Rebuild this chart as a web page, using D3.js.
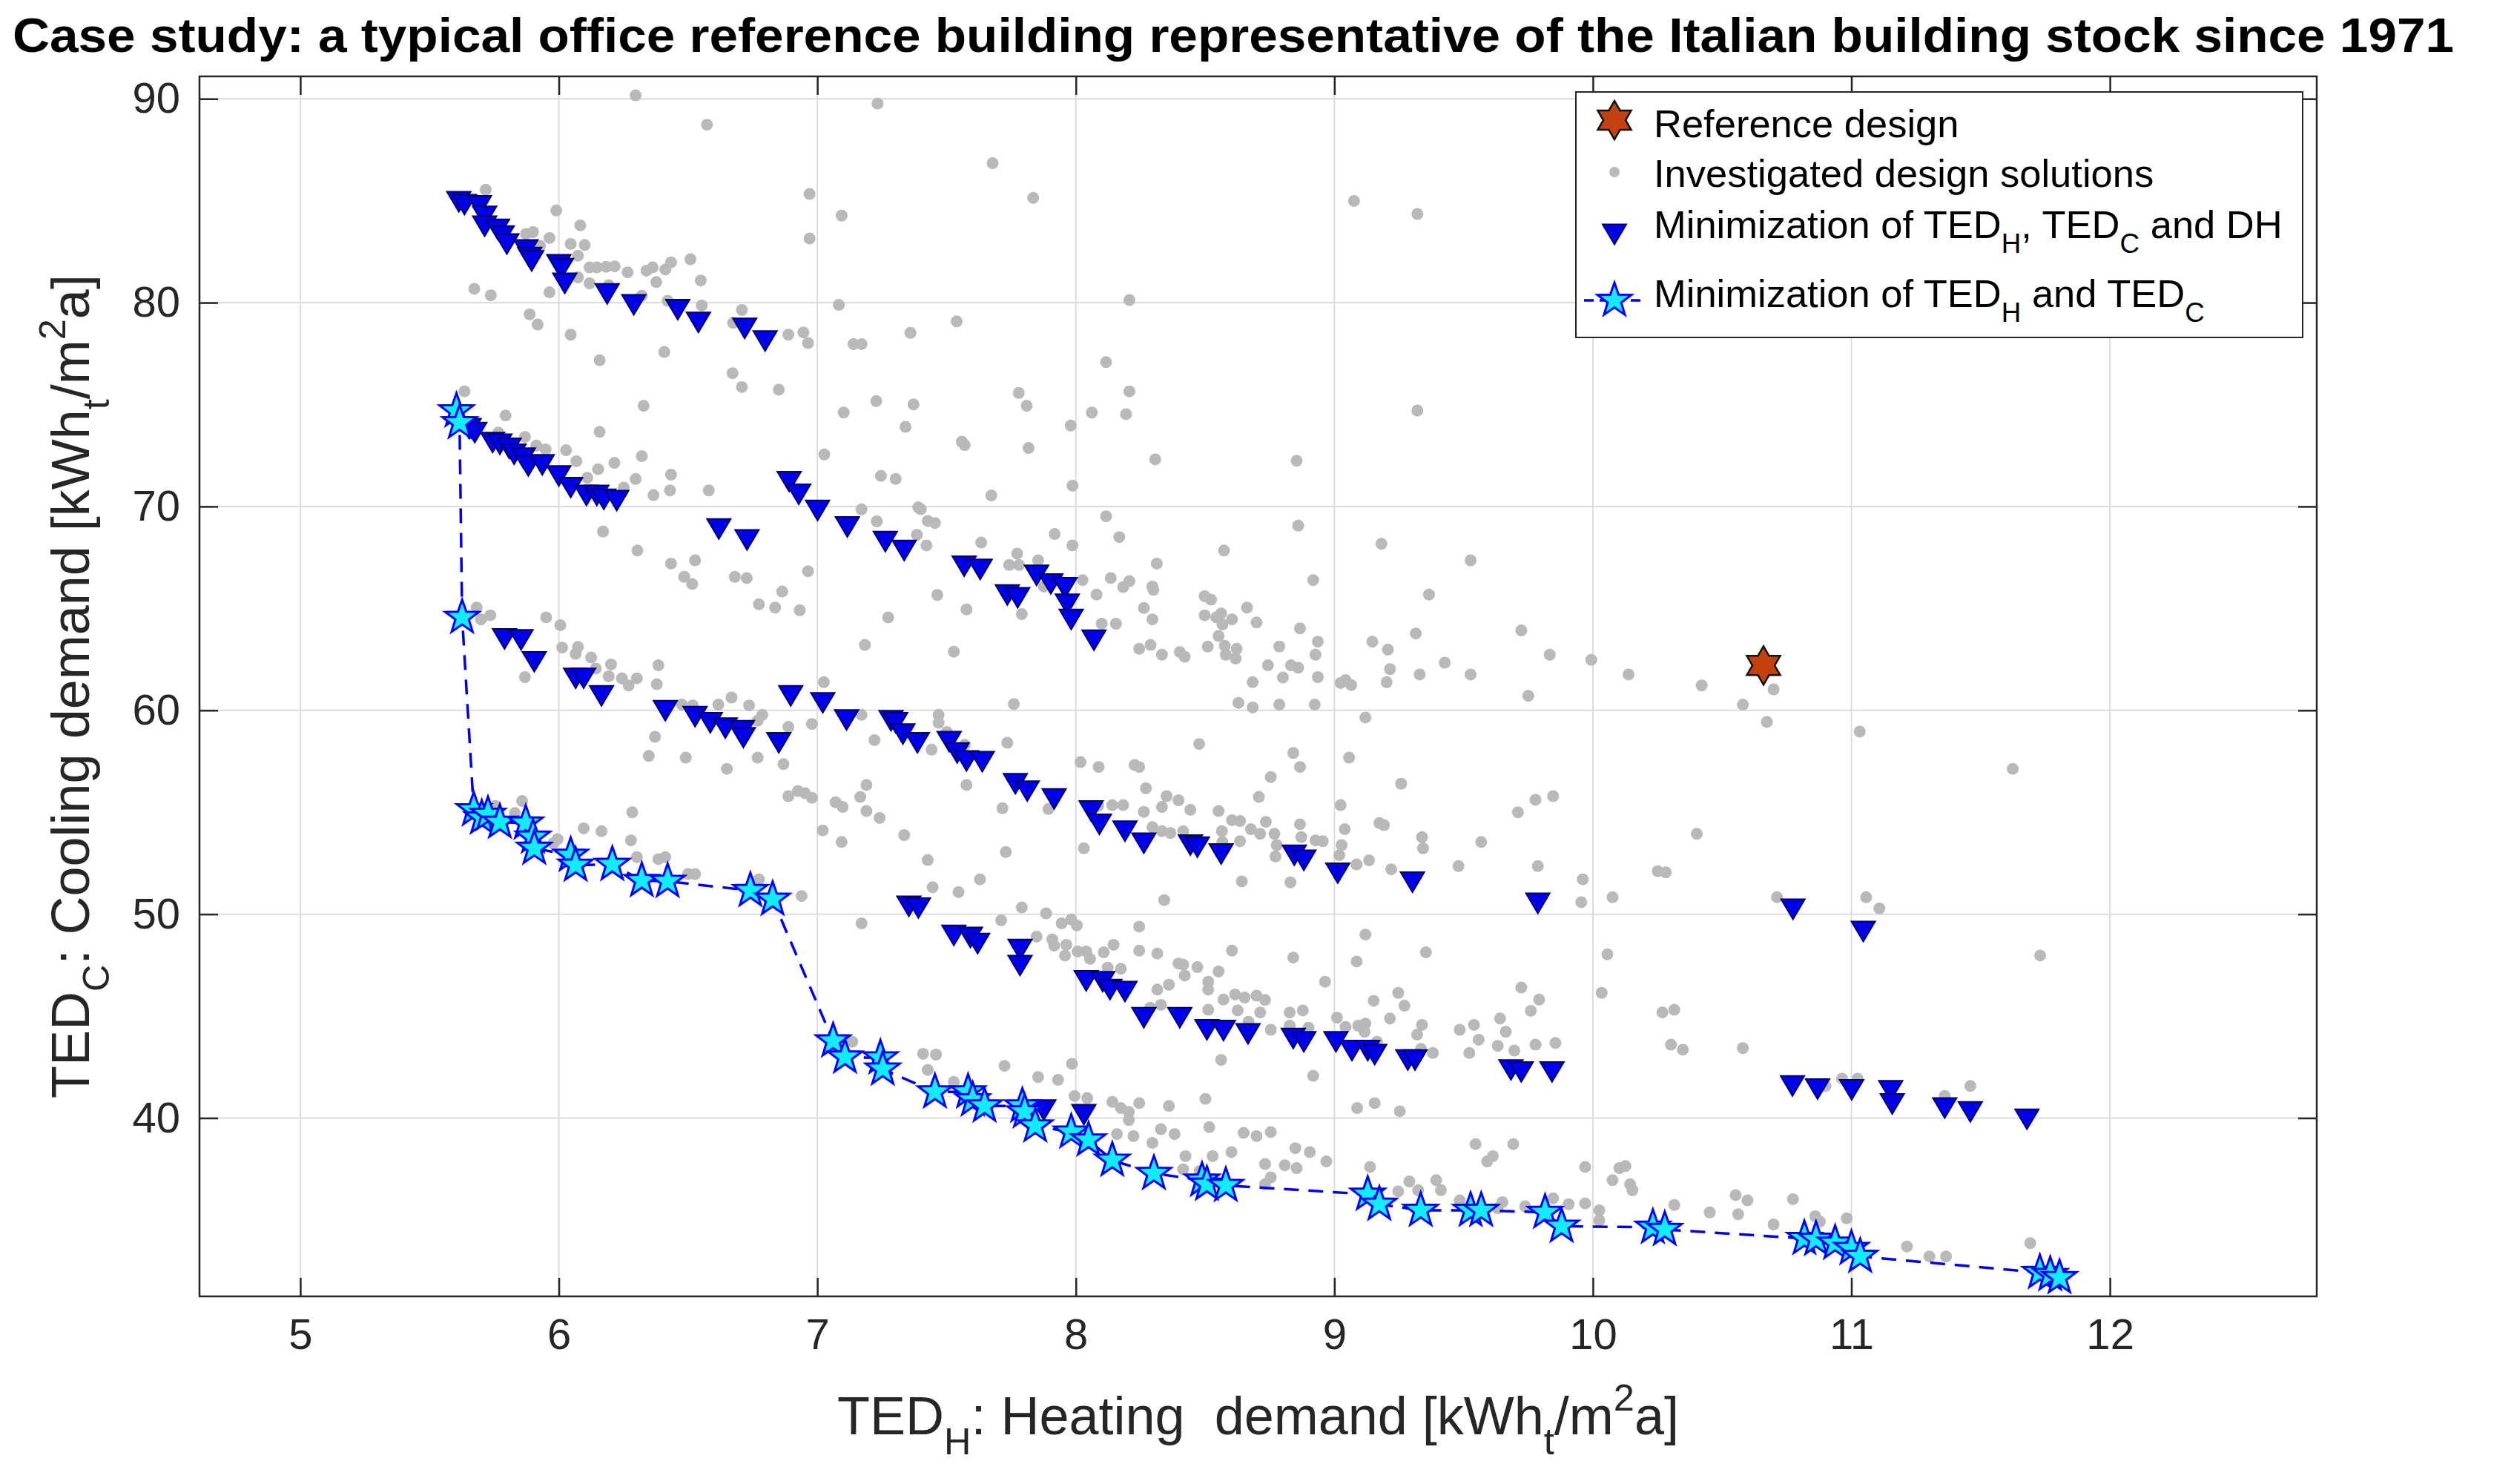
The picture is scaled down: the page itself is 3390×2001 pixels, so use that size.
<!DOCTYPE html>
<html>
<head>
<meta charset="utf-8">
<script src="https://cdn.jsdelivr.net/npm/d3@7"></script>
<style>
html, body { margin: 0; padding: 0; background: #fff; }
text { font-family: "Liberation Sans", Arial, Helvetica, sans-serif; white-space: pre; }
</style>
</head>
<body>
<div id="chart"></div>
<script>
// ---- data (TED_H, TED_C) ----
const referenceDesign = [[10.66, 62.2]];

const investigated = [
  [6.297,90.17],[6.573,88.73],[7.233,89.77],[5.717,85.54],[5.99,84.52],[6.083,83.79],[5.873,83.37],[5.90,83.46],
  [5.964,83.17],[6.046,82.88],[6.10,82.83],[6.074,82.30],[5.927,82.79],[6.119,81.73],[6.147,81.73],[6.183,81.76],
  [6.216,81.78],[6.266,81.49],[6.339,81.57],[6.363,81.73],[6.412,81.63],[6.434,81.98],[6.509,82.13],[6.377,81.01],
  [6.549,81.09],[6.97,85.33],[7.094,84.27],[6.97,83.15],[6.074,81.24],[6.119,80.95],[6.193,80.86],[5.673,80.68],
  [5.737,80.36],[5.964,80.51],[6.321,80.34],[6.421,80.09],[6.553,79.86],[6.708,79.64],[7.083,79.89],[5.887,79.43],
  [5.918,78.93],[6.046,78.43],[6.408,77.58],[6.158,77.17],[6.674,79.01],[6.888,78.43],[6.946,78.54],[6.964,78.02],
  [7.14,77.97],[7.171,77.97],[7.36,78.52],[6.672,76.54],[6.708,75.86],[6.851,75.73],[7.228,75.17],[7.372,75.01],
  [7.102,74.61],[7.341,73.91],[5.635,75.65],[6.328,74.94],[5.794,74.46],[6.158,73.66],[5.766,73.63],[5.869,73.41],
  [5.913,72.99],[5.949,72.80],[6.028,72.76],[6.068,72.22],[6.321,72.47],[6.215,72.14],[6.152,71.83],[6.110,71.41],
  [6.297,71.35],[6.434,71.56],[6.251,70.93],[6.366,70.56],[6.430,70.79],[6.580,70.79],[7.027,72.55],[7.246,71.50],
  [7.303,71.35],[7.171,69.86],[7.23,69.27],[7.39,69.96],[7.427,69.29],[7.455,69.19],[7.385,68.61],[7.422,68.09],
  [7.464,65.66],[6.171,68.77],[6.304,67.84],[6.434,67.20],[6.527,67.36],[6.485,66.55],[6.516,66.20],[6.681,66.55],
  [6.727,66.49],[6.964,66.82],[6.864,65.83],[6.774,65.20],[6.837,65.04],[6.932,64.91],[7.274,64.56],[7.184,63.21],
  [5.682,65.04],[5.735,64.66],[5.699,64.46],[5.951,64.56],[6.006,64.18],[6.013,63.08],[6.074,63.11],[6.065,62.77],
  [6.125,62.59],[6.202,62.25],[6.143,62.05],[6.385,62.21],[5.869,61.63],[6.193,61.67],[6.244,61.57],[6.302,61.57],
  [6.27,61.22],[6.379,61.28],[7.025,61.38],
  [7.678,86.84],[7.835,85.14],[9.076,84.99],[9.321,84.35],[7.539,79.08],[8.207,80.13],[8.117,77.08],[7.779,75.57],
  [7.81,74.94],[8.207,75.65],[8.062,74.61],[8.194,74.53],[7.98,73.97],[9.321,74.71],[7.559,73.18],[7.57,73.01],
  [7.817,72.87],[8.307,72.31],[8.854,72.24],[7.987,71.02],[7.673,70.54],[7.40,69.87],[8.117,69.52],[8.86,69.06],
  [7.918,68.65],[8.168,68.50],[7.634,68.23],[7.987,68.09],[9.182,68.17],[8.573,67.84],[9.527,67.36],[7.773,67.69],
  [7.742,67.13],[7.78,67.13],[7.854,67.36],[8.313,67.20],[7.577,64.95],[7.791,64.72],[7.528,62.88],[7.876,66.07],
  [7.936,66.39],[8.026,66.39],[8.08,65.68],[8.135,66.49],[8.183,66.05],[8.207,66.34],[8.296,66.07],[8.30,65.91],
  [8.263,65.02],[8.296,64.46],[8.10,64.25],[8.155,64.25],[8.918,66.39],[8.498,65.60],[8.523,65.43],[8.498,64.66],
  [8.543,64.56],[8.562,64.75],[8.604,64.46],[8.567,64.21],[8.662,65.04],[8.699,64.31],[8.552,63.65],[8.867,64.02],
  [8.936,63.37],[8.927,62.73],[9.366,65.68],[9.315,63.77],[9.723,63.92],[9.147,63.37],[9.207,62.98],[9.215,62.02],
  [8.51,63.13],[8.576,63.17],[8.622,63.02],[8.58,62.73],[8.618,62.54],[8.245,63.02],[8.289,63.21],[8.333,62.73],
  [8.402,62.86],[8.421,62.63],[8.787,63.13],[8.743,62.21],[8.832,62.21],[8.86,62.09],[8.801,61.61],[8.684,61.38],
  [8.936,61.63],[9.024,61.34],[9.043,61.48],[9.065,61.24],[9.202,61.38],[9.33,61.76],[9.427,62.34],[9.527,61.76],
  [9.833,62.73],[9.994,62.48],[10.138,61.76],[10.421,61.22],[10.699,61.03],
  [6.476,60.28],[6.518,60.24],[6.617,60.28],[6.668,60.63],[6.736,60.24],[6.787,59.78],[6.769,59.49],[6.888,59.19],
  [6.979,59.33],[7.171,59.78],[7.469,59.78],[7.469,59.39],[6.372,58.70],[7.221,58.54],[7.442,58.07],[6.348,57.76],
  [6.491,57.68],[6.769,57.68],[6.65,57.13],[6.869,57.36],[7.19,56.34],[6.888,55.79],[6.925,56.04],[6.952,55.94],
  [6.979,55.71],[7.071,55.49],[7.098,55.26],[7.166,55.75],[7.19,55.06],[7.241,54.72],[7.336,53.88],[7.021,54.11],
  [7.094,53.54],[7.427,52.66],[7.446,51.32],[6.939,50.89],[7.171,49.55],[6.284,55.0],[5.858,55.55],[5.754,55.31],
  [5.83,54.96],[6.096,54.21],[6.165,54.07],[6.279,53.62],[5.995,53.68],[5.979,53.48],[6.302,52.80],[6.385,52.70],
  [6.412,52.80],[6.5,51.97],[6.527,51.97],[6.774,51.71],[7.409,43.15],[7.427,42.36],[7.135,43.74],
  [9.75,60.71],[8.629,60.37],[8.684,60.14],[8.787,60.28],[8.924,60.28],[9.12,59.65],[7.76,60.31],[7.501,58.94],
  [7.57,58.31],[7.735,58.41],[7.577,56.34],[7.716,55.20],[7.894,55.16],[8.018,57.46],[8.088,57.22],[8.227,57.32],
  [8.245,57.22],[8.477,58.35],[8.271,56.18],[8.351,55.79],[8.397,55.59],[8.333,55.26],[8.443,55.12],[8.086,55.31],
  [8.141,55.35],[8.183,55.35],[8.263,55.02],[8.296,54.27],[8.333,54.07],[8.366,53.98],[8.415,54.07],[8.552,55.06],
  [8.604,54.61],[8.635,54.57],[8.708,55.75],[8.754,56.73],[8.841,57.91],[8.867,57.22],[9.057,57.68],[9.258,56.40],
  [9.024,55.35],[8.867,54.41],[8.735,54.53],[8.677,54.17],[8.713,53.94],[8.768,53.94],[8.635,53.58],[8.777,53.39],
  [8.565,54.07],[8.567,53.54],[8.872,53.78],[8.927,53.62],[8.955,53.58],[9.04,54.17],[9.174,54.47],[9.192,54.37],
  [9.339,53.78],[9.343,53.23],[9.568,53.54],[9.846,55.79],[9.778,55.61],[9.71,55.0],[9.028,53.39],[9.019,52.89],
  [8.772,52.83],[9.086,52.44],[9.134,52.64],[9.22,52.20],[9.48,52.36],[9.787,52.36],[8.83,51.56],[8.642,51.61],
  [9.961,51.71],[9.955,50.59],[10.076,50.83],[8.342,50.69],[8.031,53.23],[7.729,53.05],[7.546,51.08],[7.629,51.71],
  [7.791,50.33],[7.885,50.04],[7.711,49.70],[7.945,49.55],[7.982,49.74],[8.004,49.45],[7.848,48.90],[7.909,48.76],
  [7.916,48.46],[7.963,48.50],[7.958,47.97],[8.007,48.17],[8.04,48.17],[8.055,47.81],[8.108,48.13],[8.146,48.50],
  [8.245,49.39],[8.245,48.21],[8.315,48.07],[8.123,47.38],[8.174,47.32],[8.397,47.58],[8.415,47.52],[8.47,47.40],
  [8.421,46.99],[8.552,47.19],[8.604,48.21],[8.512,46.69],[8.512,46.30],[8.315,46.30],[8.36,46.54],[8.841,47.87],
  [8.964,46.69],[9.086,47.68],[9.12,49.0],[9.354,48.13],[9.247,46.14],[9.271,45.51],[9.152,45.75],[9.215,44.88],
  [9.339,44.57],[9.32,44.09],[9.335,43.39],[9.381,43.19],[8.571,45.81],[8.616,46.06],[8.653,45.91],[8.699,46.0],
  [8.732,45.79],[8.626,45.28],[8.713,45.18],[8.512,45.31],[8.287,45.41],[8.329,45.55],[8.668,44.72],[8.827,45.18],
  [8.878,45.28],[8.827,44.53],[8.754,44.33],[8.90,44.43],[9.01,44.92],[9.043,44.47],[9.092,44.53],[9.12,44.63],
  [9.117,44.23],[9.165,43.74],[8.562,42.85],[8.918,42.07],[9.485,44.33],[9.54,44.57],[9.558,43.84],[9.522,43.19],
  [9.632,43.54],[9.641,44.88],[9.663,44.23],[9.696,43.31],[9.723,46.40],[9.76,45.26],[9.792,45.81],[9.778,43.60],
  [9.855,43.68],[10.034,46.14],[10.056,48.03],[7.724,42.56],[7.459,43.11],[7.528,41.77],[7.854,42.01],[7.931,41.87],
  [7.985,42.66],[7.995,41.08],[8.044,40.98],[8.141,40.79],[8.174,40.49],[8.205,40.30],[8.205,39.90],[8.245,40.73],
  [8.36,40.59],[8.501,40.94],[8.516,39.55],[8.329,39.45],[8.382,39.21],[8.296,38.78],[8.223,39.11],[8.159,39.21],
  [8.649,39.27],[8.699,39.11],[8.754,39.31],[8.424,38.13],[8.529,38.13],[8.602,38.33],[8.415,37.48],[8.479,37.40],
  [8.732,37.74],[8.808,37.68],[8.854,37.54],[8.849,38.52],[8.905,38.33],[8.969,37.87],[8.754,37.09],[8.732,36.75],
  [9.088,40.49],[9.156,40.73],[9.253,40.33],[9.546,38.72],[9.692,38.72],[9.591,37.87],[9.613,38.13],[9.138,37.60],
  [9.29,36.89],[9.394,36.95],[9.412,36.46],[9.247,36.40],[9.324,36.46],[9.97,37.60],[10.102,37.54],[10.076,36.95],
  [10.144,36.75],[10.153,36.46],[9.485,35.96],[9.65,35.87],[9.738,35.67],[9.846,36.06],[9.906,35.77],[9.97,35.81],
  [10.025,35.47],[10.025,34.98],[9.632,35.57],
  [10.58,60.28],[10.673,59.43],[11.032,58.96],[11.624,57.13],[10.402,53.94],[10.251,52.11],[10.282,52.05],[10.712,50.83],
  [11.057,50.83],[11.108,50.28],[10.269,45.18],[10.315,45.31],[10.302,43.60],[10.348,43.35],[10.58,43.43],[11.73,47.97],
  [10.964,41.93],[11.024,41.93],[10.90,41.57],[11.361,41.08],[11.46,41.57],[10.126,37.64],[10.315,35.73],[10.452,35.37],
  [10.552,36.22],[10.598,35.96],[10.562,35.28],[10.699,34.78],[10.774,36.02],[10.86,35.18],[10.878,34.92],[10.982,35.08],
  [11.215,33.70],[11.302,33.21],[11.366,33.21],[11.692,33.86]
];

// minimisation of TED_H, TED_C and DH
const minTriple = [
  [5.613,84.95],[5.635,84.81],[5.693,84.75],[5.713,84.23],[5.713,83.75],[5.763,83.60],[5.781,83.27],[5.799,82.88],
  [5.873,82.59],[5.887,82.21],[5.895,82.05],[6.0,81.86],[6.01,81.67],[6.023,80.95],[6.187,80.43],[6.29,79.89],
  [6.46,79.66],[6.54,79.03],[6.719,78.74],[6.798,78.12],
  [5.653,73.82],[5.675,73.63],[5.744,73.14],[5.772,73.05],[5.808,72.85],[5.827,72.56],[5.863,72.37],[5.882,71.99],
  [5.936,72.04],[6.0,71.50],[6.046,70.93],[6.107,70.54],[6.147,70.54],[6.174,70.35],[6.224,70.29],[6.619,68.90],
  [6.728,68.36],[6.891,71.22],[6.928,70.60],[7.001,69.81],[7.116,69.0],[7.263,68.28],[7.336,67.84],[7.568,67.07],
  [7.63,66.91],[7.735,65.66],[7.775,65.52],[7.848,66.62],[7.903,66.20],[7.958,66.01],[7.967,65.20],[7.982,64.46],
  [8.07,63.44],
  [5.79,63.50],[5.854,63.46],[5.905,62.38],[6.065,61.57],[6.096,61.57],[6.165,60.71],[6.412,59.98],[6.527,59.69],
  [6.586,59.39],[6.644,59.13],[6.71,59.0],[6.714,58.66],[6.851,58.41],[6.897,60.71],[7.021,60.37],[7.113,59.53],
  [7.285,59.49],[7.303,59.39],[7.331,58.84],[7.387,58.41],[7.51,58.46],[7.541,57.91],[7.577,57.52],[7.638,57.48],
  [7.766,56.40],[7.812,56.04],[7.916,55.65],[8.059,55.06],[8.091,54.41],[8.19,54.07],[8.263,53.48],[8.443,53.39],
  [8.47,53.29],[8.562,52.95],[8.845,52.89],[8.882,52.64],[9.013,52.01],[9.302,51.57],[9.787,50.53],[10.774,50.24],
  [11.046,49.15],
  [7.354,50.39],[7.391,50.30],[7.528,48.96],[7.592,48.86],[7.62,48.56],[7.784,48.27],[7.784,47.48],[8.04,46.73],
  [8.104,46.69],[8.132,46.30],[8.19,46.20],[8.263,44.92],[8.402,44.92],[8.507,44.33],[8.571,44.29],[8.666,44.13],
  [8.841,43.90],[8.882,43.74],[9.006,43.74],[9.068,43.31],[9.129,43.31],[9.156,43.11],[9.284,42.85],[9.312,42.85],
  [9.683,42.36],[9.723,42.26],[9.842,42.26],[10.772,41.57],[10.869,41.42],[11.001,41.38],[11.152,41.34],[11.158,40.69],
  [11.361,40.49],[11.46,40.30],[11.679,39.94],[7.876,40.39],[8.031,40.16]
];

// minimisation of TED_H and TED_C (Pareto front, ordered by TED_H)
const minDouble = [
  [5.604,74.69],[5.616,74.11],[5.626,64.56],[5.671,55.12],[5.702,54.72],[5.726,54.90],[5.772,54.51],[5.872,54.47],
  [5.90,53.78],[5.905,53.23],[6.046,52.89],[6.065,52.40],[6.207,52.44],[6.321,51.65],[6.421,51.61],[6.741,51.16],
  [6.827,50.73],[7.061,43.78],[7.107,42.99],[7.244,42.95],[7.253,42.40],[7.455,41.28],[7.583,41.28],[7.601,40.89],
  [7.647,40.59],[7.793,40.59],[7.802,40.30],[7.843,39.61],[7.982,39.31],[8.049,38.92],[8.141,37.93],[8.302,37.28],
  [8.488,36.95],[8.507,36.75],[8.58,36.69],[9.129,36.26],[9.174,35.77],[9.334,35.47],[9.527,35.47],[9.568,35.47],
  [9.815,35.37],[9.879,34.69],[10.232,34.64],[10.278,34.53],[10.818,34.09],[10.863,34.05],[10.937,33.86],[11.0,33.60],
  [11.034,33.21],[11.729,32.42],[11.769,32.32],[11.805,32.17]
];

const xTicks = [5, 6, 7, 8, 9, 10, 11, 12];
const yTicks = [40, 50, 60, 70, 80, 90];
const xDomain = [4.61, 12.8];
const yDomain = [31.25, 91.1];

const titleText = "Case study: a typical office reference building representative of the Italian building stock since 1971";
const xLabel = [{t: "TED"}, {t: "H", sub: true}, {t: ": Heating  demand [kWh"}, {t: "t", sub: true}, {t: "/m"}, {t: "2", sup: true}, {t: "a]"}];
const yLabel = [{t: "TED"}, {t: "C", sub: true}, {t: ": Cooling demand [kWh"}, {t: "t", sub: true}, {t: "/m"}, {t: "2", sup: true}, {t: "a]"}];
const legendRows = [
  [{t: "Reference design"}],
  [{t: "Investigated design solutions"}],
  [{t: "Minimization of TED"}, {t: "H", sub: true}, {t: ", TED"}, {t: "C", sub: true}, {t: " and DH"}],
  [{t: "Minimization of TED"}, {t: "H", sub: true}, {t: " and TED"}, {t: "C", sub: true}]
];

// ---- layout ----
const width = 3390, height = 2001;
const plotL = 269, plotR = 3124, plotT = 103, plotB = 1748;
const axisColor = "#262626";

const svg = d3.select("#chart").append("svg")
  .attr("width", width)
  .attr("height", height)
  .style("display", "block");

const x = d3.scaleLinear().domain(xDomain).range([plotL, plotR]);
const y = d3.scaleLinear().domain(yDomain).range([plotB, plotT]);

// grid
svg.append("g")
  .selectAll("line").data(xTicks).enter().append("line")
  .attr("x1", d => x(d)).attr("x2", d => x(d))
  .attr("y1", plotT).attr("y2", plotB)
  .attr("stroke", "#dcdcdc").attr("stroke-width", 2);
svg.append("g")
  .selectAll("line").data(yTicks).enter().append("line")
  .attr("y1", d => y(d)).attr("y2", d => y(d))
  .attr("x1", plotL).attr("x2", plotR)
  .attr("stroke", "#dcdcdc").attr("stroke-width", 2);

// axes, ticks pointing inward on all four sides
function styleAxis(g) {
  g.attr("font-family", "'Liberation Sans', Arial, sans-serif")
   .attr("font-size", 58)
   .attr("color", axisColor);
  g.select(".domain").remove();
  g.selectAll(".tick line").attr("stroke-width", 2.5);
}
svg.append("g").attr("transform", `translate(0,${plotB})`)
  .call(d3.axisBottom(x).tickValues(xTicks).tickSizeInner(-25).tickSizeOuter(0).tickPadding(30))
  .call(styleAxis);
svg.append("g").attr("transform", `translate(0,${plotT})`)
  .call(d3.axisTop(x).tickValues(xTicks).tickSizeInner(-25).tickSizeOuter(0).tickFormat(""))
  .call(styleAxis);
svg.append("g").attr("transform", `translate(${plotL},0)`)
  .call(d3.axisLeft(y).tickValues(yTicks).tickSizeInner(-25).tickSizeOuter(0).tickPadding(26))
  .call(styleAxis);
svg.append("g").attr("transform", `translate(${plotR},0)`)
  .call(d3.axisRight(y).tickValues(yTicks).tickSizeInner(-25).tickSizeOuter(0).tickFormat(""))
  .call(styleAxis);

svg.append("rect")
  .attr("x", plotL).attr("y", plotT)
  .attr("width", plotR - plotL).attr("height", plotB - plotT)
  .attr("fill", "none").attr("stroke", axisColor).attr("stroke-width", 2.5);

// marker shapes
function starPath(n, R, r) {
  const pts = [];
  for (let i = 0; i < 2 * n; i++) {
    const a = -Math.PI / 2 + i * Math.PI / n;
    const rad = i % 2 === 0 ? R : r;
    pts.push([rad * Math.cos(a), rad * Math.sin(a)]);
  }
  return d3.line()(pts) + "Z";
}
const pentagram = starPath(5, 24, 24 * 0.4);
const hexagram = starPath(6, 26, 26 / Math.sqrt(3));
const triDown = d3.line()([[-16, -13.5], [16, -13.5], [0, 13.5]]) + "Z";

const marks = svg.append("g");

marks.append("g").selectAll("circle").data(investigated).enter().append("circle")
  .attr("cx", d => x(d[0])).attr("cy", d => y(d[1]))
  .attr("r", 8).attr("fill", "#b9b9b9");

marks.append("g").selectAll("path").data(minTriple).enter().append("path")
  .attr("d", triDown)
  .attr("transform", d => `translate(${x(d[0])},${y(d[1])})`)
  .attr("fill", "#0000e6").attr("stroke", "#00006e").attr("stroke-width", 2);

marks.append("path")
  .datum(minDouble)
  .attr("d", d3.line().x(d => x(d[0])).y(d => y(d[1])))
  .attr("fill", "none").attr("stroke", "#0000ee")
  .attr("stroke-width", 3.5).attr("stroke-dasharray", "20 13");

marks.append("g").selectAll("path").data(minDouble).enter().append("path")
  .attr("d", pentagram)
  .attr("transform", d => `translate(${x(d[0])},${y(d[1])})`)
  .attr("fill", "#12ecff").attr("stroke", "#0000ff").attr("stroke-width", 3);

marks.append("g").selectAll("path").data(referenceDesign).enter().append("path")
  .attr("d", hexagram)
  .attr("transform", d => `translate(${x(d[0])},${y(d[1])})`)
  .attr("fill", "#c2410e").attr("stroke", "#111").attr("stroke-width", 2.5);

// text with TeX-like sub/superscripts
function richText(t, parts, size) {
  let shift = 0;
  parts.forEach(p => {
    const target = p.sub ? 0.38 * size : p.sup ? -0.44 * size : 0;
    t.append("tspan")
      .attr("font-size", (p.sub || p.sup) ? size * 0.7 : size)
      .attr("dy", target - shift)
      .text(p.t);
    shift = target;
  });
  return t;
}

// title and axis labels
svg.append("text")
  .attr("x", 1663).attr("y", 70)
  .attr("text-anchor", "middle")
  .attr("font-size", 64).attr("font-weight", "bold").attr("fill", "#000")
  .attr("textLength", 3292).attr("lengthAdjust", "spacingAndGlyphs")
  .text(titleText);

richText(svg.append("text")
  .attr("x", (plotL + plotR) / 2).attr("y", 1934)
  .attr("text-anchor", "middle").attr("fill", axisColor), xLabel, 72);

richText(svg.append("text")
  .attr("transform", `translate(120,${(plotT + plotB) / 2}) rotate(-90)`)
  .attr("text-anchor", "middle").attr("fill", axisColor), yLabel, 72);

// legend
const lg = svg.append("g");
lg.append("rect")
  .attr("x", 2125).attr("y", 124).attr("width", 980).attr("height", 331)
  .attr("fill", "#fff").attr("stroke", axisColor).attr("stroke-width", 2);

const lgMarkX = 2177, lgTextX = 2230;
const lgMarkY = [162, 232, 316, 405];
const lgTextY = [185, 252, 321, 414];

lg.append("path").attr("d", hexagram)
  .attr("transform", `translate(${lgMarkX},${lgMarkY[0]})`)
  .attr("fill", "#c2410e").attr("stroke", "#111").attr("stroke-width", 2.5);
lg.append("circle").attr("cx", lgMarkX).attr("cy", lgMarkY[1]).attr("r", 7).attr("fill", "#b9b9b9");
lg.append("path").attr("d", triDown)
  .attr("transform", `translate(${lgMarkX},${lgMarkY[2]})`)
  .attr("fill", "#0000e6").attr("stroke", "#00006e").attr("stroke-width", 2);
lg.append("line")
  .attr("x1", 2136).attr("x2", 2219).attr("y1", lgMarkY[3]).attr("y2", lgMarkY[3])
  .attr("stroke", "#0000ee").attr("stroke-width", 3.5).attr("stroke-dasharray", "13 8");
lg.append("path").attr("d", pentagram)
  .attr("transform", `translate(${lgMarkX},${lgMarkY[3]})`)
  .attr("fill", "#12ecff").attr("stroke", "#0000ff").attr("stroke-width", 3);

legendRows.forEach((row, i) => {
  richText(lg.append("text")
    .attr("x", lgTextX).attr("y", lgTextY[i])
    .attr("fill", "#000"), row, 52.5);
});
</script>
</body>
</html>
